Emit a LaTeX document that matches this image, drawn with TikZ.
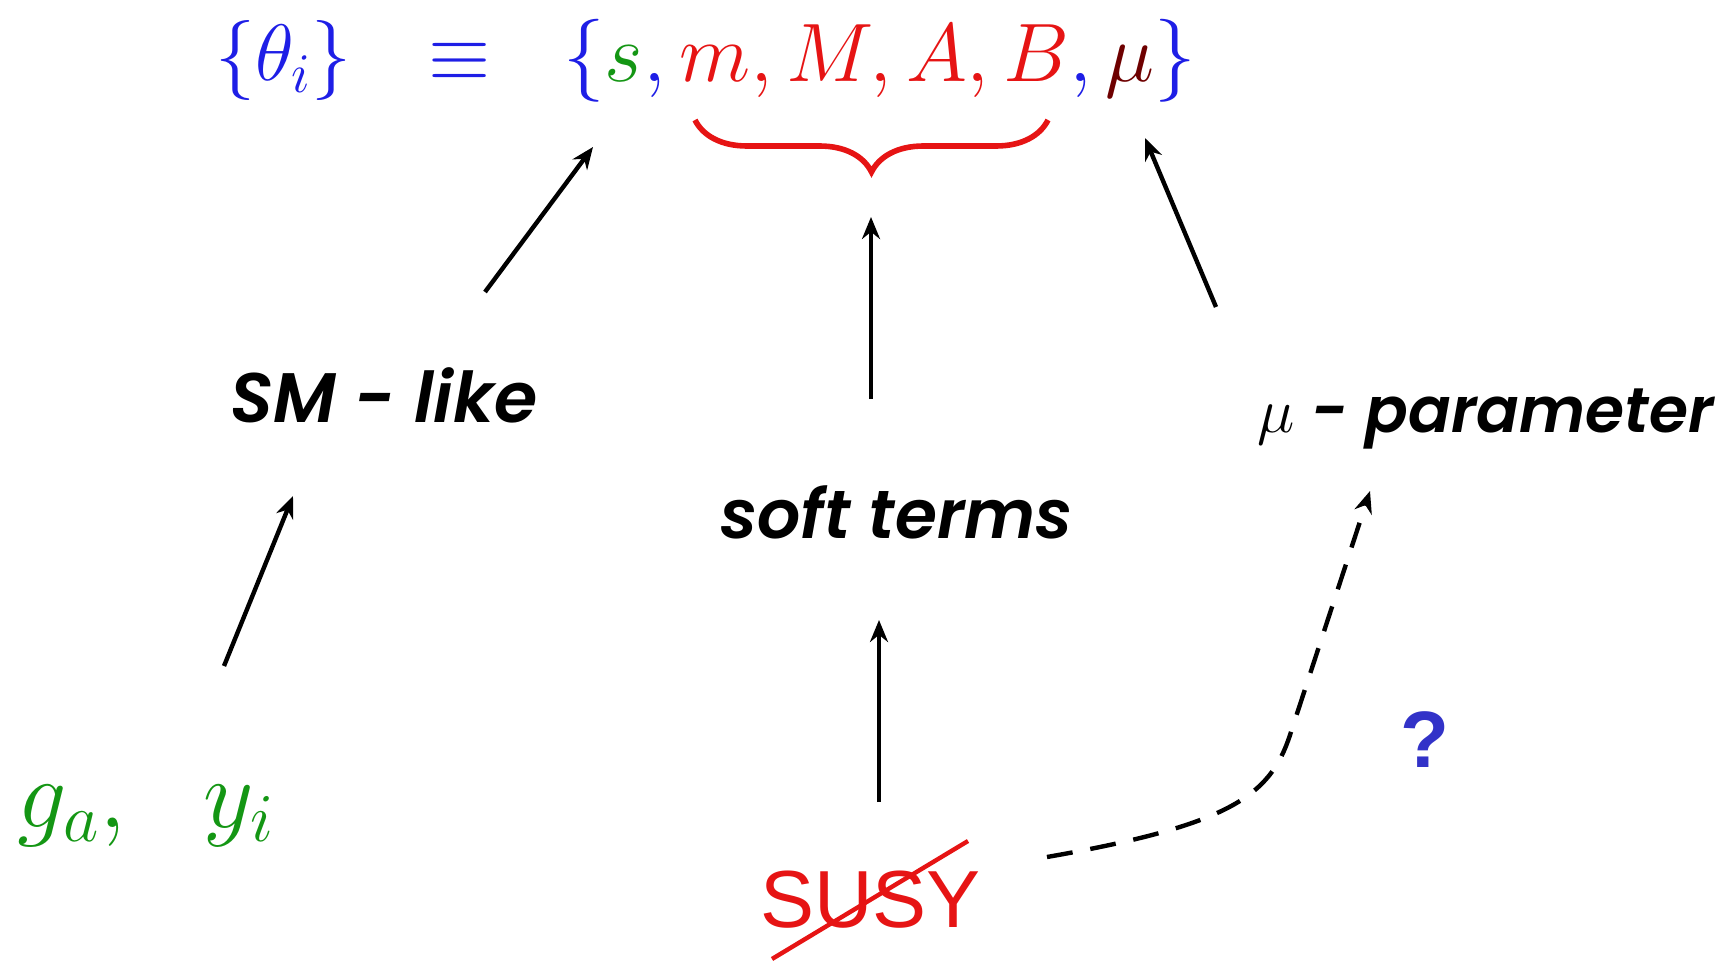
\RequirePackage{fix-cm}
\documentclass[tikz,border=0pt]{standalone}
\usepackage{fontspec}
\newfontfamily\comic{Poppins}[ItalicFont={Poppins SemiBold Italic}]
\newfontfamily\arial{Liberation Sans}
\usetikzlibrary{arrows.meta,decorations.pathreplacing}
\definecolor{tblue}{RGB}{30,30,230}
\definecolor{tgreen}{RGB}{20,150,20}
\definecolor{tred}{RGB}{230,20,20}
\definecolor{tmaroon}{RGB}{110,0,0}
\definecolor{qblue}{RGB}{50,50,200}
\begin{document}
\begin{tikzpicture}[x=0.5pt,y=-0.5pt,
  arr/.style={line width=2.2pt,-{Stealth[length=11pt,width=9pt]}},
  dasharr/.style={arr,dash pattern=on 13pt off 9pt},
  lbl/.style={inner sep=0pt,anchor=base west,font=\comic\itshape\fontsize{34}{40}\selectfont},
  mth/.style={inner sep=0pt,anchor=base west,font=\fontsize{40}{48}\selectfont}]
\useasboundingbox (0,0) rectangle (1729,963);
% top formula
\node[mth,text=tblue] (theta) at (215,81) {$\{\theta_i\}$};
\node[mth,text=tblue] (equiv) at (428,81) {$\equiv$};
\node[mth,text=tblue,font=\fontsize{41.5}{50}\selectfont] (set) at (563,82) {$\{{\color{tgreen}s},{\color{tred}m,M,A,B},{\color{tmaroon}\mu}\}$};
\draw[tred,line width=2.8pt,decorate,decoration={brace,mirror,amplitude=26pt}] (695,120) -- (1048,120);
% labels
\node[lbl,font=\comic\itshape\fontsize{35}{40}\selectfont] (sm) at (230,422) {SM - like};
\node[lbl,font=\comic\itshape\fontsize{31.6}{40}\selectfont] (mup) at (1257,432) {$\mu$ - parameter};
\node[lbl,font=\comic\itshape\fontsize{34}{40}\selectfont] (soft) at (720,538) {soft terms};
\node[inner sep=0pt,anchor=base west,font=\fontsize{49}{58}\selectfont,text=tgreen] (gy) at (17,827) {$g_a,\hspace{0.62em}y_i$};
\node[inner sep=0pt,anchor=base west,font=\arial\fontsize{40.5}{48}\selectfont,text=tred] (susy) at (760,927) {SUSY};
\node[inner sep=0pt,anchor=base west,font=\arial\bfseries\fontsize{40}{48}\selectfont,text=qblue] (q) at (1400,767) {?};
% coordinates
\coordinate (s1) at (772,959); \coordinate (s2) at (968,841);
\draw[tred,line width=2.2pt] (s1) -- (s2);
\coordinate (a1) at (485,292); \coordinate (b1) at (593,147);
\coordinate (a2) at (871,399); \coordinate (b2) at (871,217);
\coordinate (a3) at (1216,307); \coordinate (b3) at (1145,138);
\coordinate (a4) at (224,666); \coordinate (b4) at (293,496);
\coordinate (a5) at (879,802); \coordinate (b5) at (879,620);
\coordinate (a6) at (1047,857); \coordinate (c6) at (1290,735); \coordinate (b6) at (1370,491);
\draw[arr] (a1) -- (b1);
\draw[arr] (a2) -- (b2);
\draw[arr] (a3) -- (b3);
\draw[arr] (a4) -- (b4);
\draw[arr] (a5) -- (b5);
\draw[dasharr] (a6) .. controls (1230,825) and (1270,796) .. (c6) -- (b6);
\end{tikzpicture}
\end{document}
